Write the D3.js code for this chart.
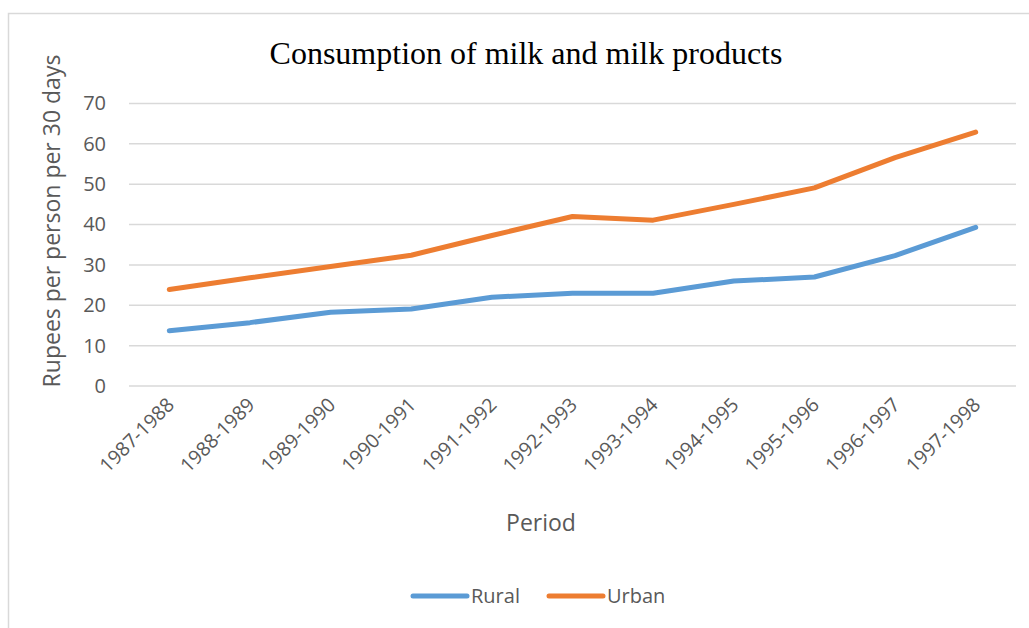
<!DOCTYPE html>
<html><head><meta charset="utf-8">
<script src="https://cdn.jsdelivr.net/npm/d3@7/dist/d3.min.js"></script>
<style>body{margin:0;background:#fff}svg{display:block}</style>
</head><body>
<script>
const categories = ["1987-1988","1988-1989","1989-1990","1990-1991","1991-1992","1992-1993","1993-1994","1994-1995","1995-1996","1996-1997","1997-1998"];
const rural = [13.7,15.7,18.3,19.1,22.0,23.0,23.0,26.0,27.0,32.3,39.3];
const urban = [23.9,26.8,29.6,32.4,37.3,42.0,41.1,45.0,49.1,56.6,62.9];
const yTicks = [0,10,20,30,40,50,60,70];
const seriesNames = ["Rural","Urban"];
const colors = ["#5b9bd5","#ed7d31"];

const W=1029,H=628;
const svg=d3.select("body").append("svg").attr("width",W).attr("height",H);
svg.append("rect").attr("x",8.5).attr("y",13.5).attr("width",1040).attr("height",640)
  .attr("fill","#fff").attr("stroke","#d9d9d9").attr("stroke-width",1.5);

const x=d3.scaleBand().domain(categories).range([129,1016]);
const y=d3.scaleLinear().domain([0,70]).range([386,103.5]);
const font="'Open Sans', Carlito, sans-serif";

// gridlines
svg.append("g").selectAll("line").data(yTicks).join("line")
  .attr("x1",129).attr("x2",1016).attr("y1",d=>y(d)).attr("y2",d=>y(d))
  .attr("stroke","#d9d9d9").attr("stroke-width",1.5);

// y axis labels
const ya=svg.append("g").attr("transform","translate(106,0)")
  .call(d3.axisLeft(y).tickValues(yTicks).tickSize(0).tickPadding(0));
ya.select(".domain").remove();
ya.selectAll("text").attr("font-family",font).attr("font-size",20).attr("fill","#595959");

// x axis labels
const xa=svg.append("g").attr("transform","translate(0,386)")
  .call(d3.axisBottom(x).tickSize(0));
xa.select(".domain").remove();
xa.selectAll("text").attr("font-family",font).attr("font-size",19.5).attr("fill","#595959")
  .attr("text-anchor","end").attr("dy",0).attr("y",0)
  .attr("transform","translate(6,20) rotate(-45)");

// lines
const line=d3.line().x((d,i)=>x(categories[i])+x.bandwidth()/2).y(d=>y(d));
[rural,urban].forEach((s,k)=>{
  svg.append("path").datum(s).attr("d",line).attr("fill","none")
    .attr("stroke",colors[k]).attr("stroke-width",5).attr("stroke-linecap","round").attr("stroke-linejoin","round");
});

// title
svg.append("text").attr("x",526).attr("y",64).attr("text-anchor","middle")
  .attr("font-family","'Liberation Serif','Times New Roman',serif").attr("font-size",32).attr("fill","#000")
  .text("Consumption of milk and milk products");

// axis titles
svg.append("text").attr("transform","translate(60,221) rotate(-90)").attr("text-anchor","middle")
  .attr("font-family",font).attr("font-size",23).attr("fill","#595959").text("Rupees per person per 30 days");
svg.append("text").attr("x",541).attr("y",531).attr("text-anchor","middle")
  .attr("font-family",font).attr("font-size",23).attr("fill","#595959").text("Period");

// legend
const lg=[{x:413},{x:549}];
seriesNames.forEach((n,k)=>{
  svg.append("line").attr("x1",lg[k].x).attr("x2",lg[k].x+54).attr("y1",596).attr("y2",596)
    .attr("stroke",colors[k]).attr("stroke-width",5).attr("stroke-linecap","round");
  svg.append("text").attr("x",lg[k].x+58).attr("y",603).attr("font-family",font).attr("font-size",20)
    .attr("fill","#595959").text(n);
});
</script>
</body></html>
